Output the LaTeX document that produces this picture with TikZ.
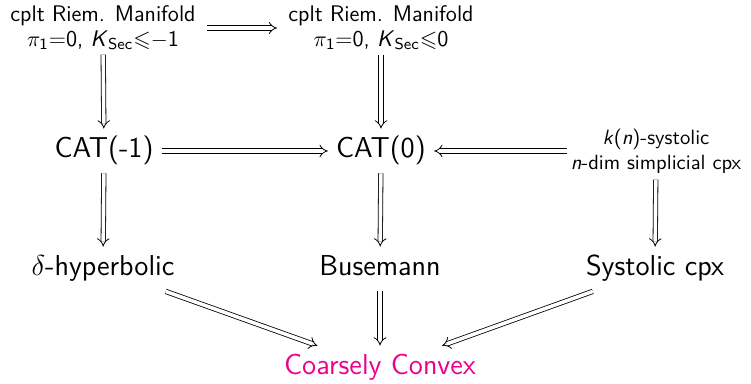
\documentclass[tikz,border=0pt]{standalone}
\usepackage{amsmath,amssymb}
\usetikzlibrary{arrows.meta}
\definecolor{cvx}{RGB}{236,0,140}
\begin{document}
\begin{tikzpicture}[x=0.5pt,y=-0.5pt,
  mainnode/.style={font=\sffamily\fontsize{14.4}{17}\selectfont, inner sep=4pt, text height=10.5pt, text depth=3.5pt},
  topnode/.style={font=\sffamily\fontsize{11.3}{12.2}\selectfont, align=center, inner xsep=5.5pt, inner ysep=2pt},
  sysnode/.style={font=\sffamily\fontsize{10.3}{12.5}\selectfont, align=center, inner xsep=1.5pt, inner ysep=3pt},
  imp/.style={double, double distance=1.8pt, line width=0.4pt, -{Implies}}
]
\useasboundingbox (0,0) rectangle (751,384);
\node[topnode] (m1) at (103,28) {cplt Riem. Manifold\\$\pi_{\textsf{1}}$=0, \textit{K}$_{\textsf{Sec}}{\leqslant}{-}$1};
\node[topnode] (m2) at (381,28) {cplt Riem. Manifold\\$\pi_{\textsf{1}}$=0, \textit{K}$_{\textsf{Sec}}{\leqslant}$0};
\node[mainnode] (c1) at (104,151) {CAT(-1)};
\node[mainnode] (c0) at (381,151) {CAT(0)};
\node[sysnode] (sys) at (656,151) {\textit{k}(\textit{n})-systolic\\\textit{n}-dim simplicial cpx};
\node[mainnode] (h) at (103,269) {$\delta$-hyperbolic};
\node[mainnode] (b) at (380,269) {Busemann};
\node[mainnode] (s) at (655,269) {Systolic cpx};
\node[mainnode, text=cvx] (cc) at (380,368) {Coarsely Convex};
\draw[imp] (m1) -- (m2);
\draw[imp] (m1) -- (c1);
\draw[imp] (m2) -- (c0);
\draw[imp] (c1) -- (c0);
\draw[imp] (sys) -- (c0);
\draw[imp] (c1) -- (h);
\draw[imp] (c0) -- (b);
\draw[imp] (sys) -- (s);
\draw[imp] (h) -- (cc);
\draw[imp] (b) -- (cc);
\draw[imp] (s) -- (cc);
\end{tikzpicture}
\end{document}
